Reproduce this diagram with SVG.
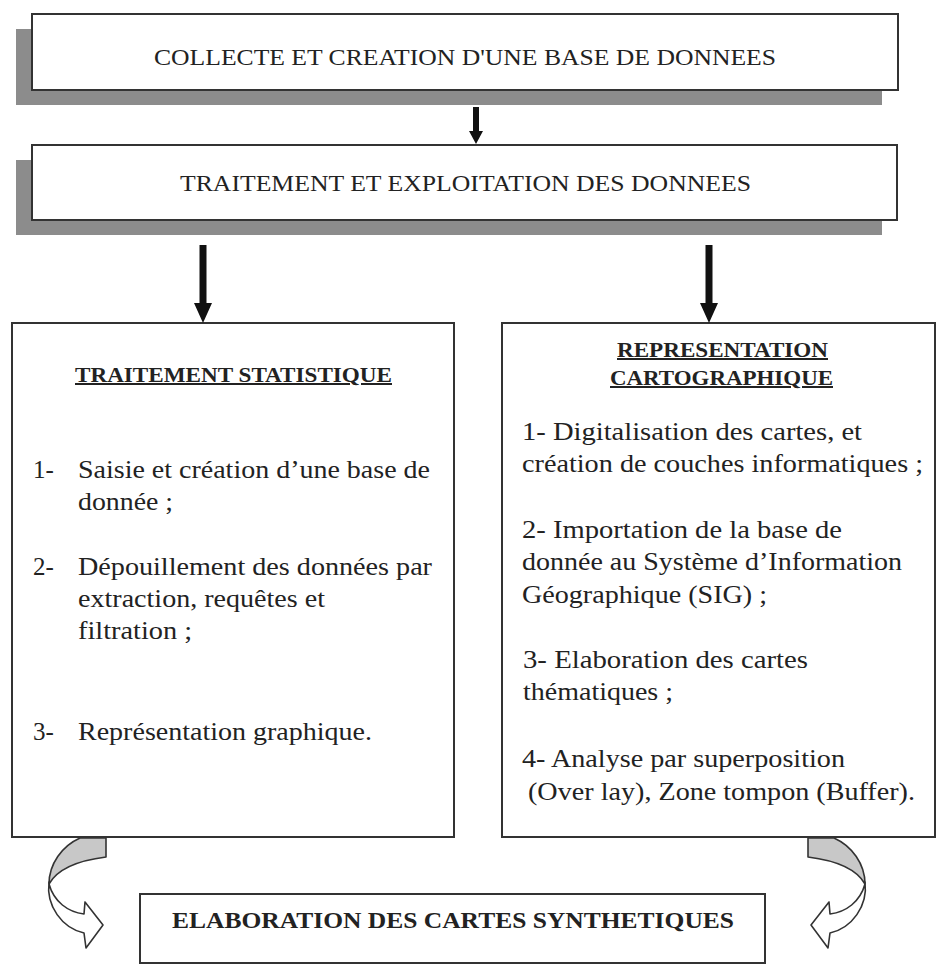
<svg xmlns="http://www.w3.org/2000/svg" width="937" height="966" viewBox="0 0 937 966">
<style>
.box{fill:#fff;stroke:#333;stroke-width:2}
.shadow{fill:#8c8c8c}
.t{font-family:"Liberation Serif","Times New Roman",serif;fill:#222}
.cap{font-size:23px}
.item{font-size:25px}
.bold{font-weight:bold}
.ul{text-decoration:underline}
.arrow{fill:#111}
.cb{stroke:#333;stroke-width:1.6;stroke-linejoin:round}
</style>
<rect width="937" height="966" fill="#fff"/>

<g id="node-collecte">
<rect class="shadow" x="16" y="29" width="866" height="76"/>
<rect class="box" x="32" y="14" width="866" height="76"/>
<text class="t cap" x="154" y="65" textLength="622" lengthAdjust="spacingAndGlyphs">COLLECTE ET CREATION D'UNE BASE DE DONNEES</text>
</g>

<g id="node-traitement">
<rect class="shadow" x="16" y="160" width="866" height="75"/>
<rect class="box" x="32" y="145" width="865" height="75"/>
<text class="t cap" x="180" y="191" textLength="571" lengthAdjust="spacingAndGlyphs">TRAITEMENT ET EXPLOITATION DES DONNEES</text>
</g>

<g id="node-statistique">
<rect class="box" x="12" y="323" width="442" height="514"/>
<text class="t bold ul" font-size="20" x="75" y="382" textLength="317" lengthAdjust="spacingAndGlyphs">TRAITEMENT STATISTIQUE</text>
<text class="t item" x="33" y="478">1-</text>
<text class="t item" x="78" y="478" textLength="352" lengthAdjust="spacingAndGlyphs">Saisie et création d’une base de</text>
<text class="t item" x="78" y="510" textLength="95" lengthAdjust="spacingAndGlyphs">donnée ;</text>
<text class="t item" x="33" y="575">2-</text>
<text class="t item" x="78" y="575" textLength="354" lengthAdjust="spacingAndGlyphs">Dépouillement des données par</text>
<text class="t item" x="78" y="607" textLength="247" lengthAdjust="spacingAndGlyphs">extraction, requêtes et</text>
<text class="t item" x="78" y="639" textLength="114" lengthAdjust="spacingAndGlyphs">filtration ;</text>
<text class="t item" x="33" y="740">3-</text>
<text class="t item" x="78" y="740" textLength="294" lengthAdjust="spacingAndGlyphs">Représentation graphique.</text>
</g>

<g id="node-cartographique">
<rect class="box" x="502" y="323" width="433" height="514"/>
<text class="t bold ul" font-size="20" x="617" y="357" textLength="211" lengthAdjust="spacingAndGlyphs">REPRESENTATION</text>
<text class="t bold ul" font-size="20" x="610" y="385" textLength="223" lengthAdjust="spacingAndGlyphs">CARTOGRAPHIQUE</text>
<text class="t item" x="522" y="440" textLength="340" lengthAdjust="spacingAndGlyphs">1-  Digitalisation des cartes, et</text>
<text class="t item" x="522" y="472" textLength="401" lengthAdjust="spacingAndGlyphs">création de couches informatiques ;</text>
<text class="t item" x="522" y="538" textLength="320" lengthAdjust="spacingAndGlyphs">2-  Importation de la base de</text>
<text class="t item" x="522" y="570" textLength="380" lengthAdjust="spacingAndGlyphs">donnée au Système d’Information</text>
<text class="t item" x="522" y="603" textLength="245" lengthAdjust="spacingAndGlyphs">Géographique (SIG) ;</text>
<text class="t item" x="523" y="668" textLength="285" lengthAdjust="spacingAndGlyphs">3-  Elaboration des cartes</text>
<text class="t item" x="523" y="700" textLength="150" lengthAdjust="spacingAndGlyphs">thématiques ;</text>
<text class="t item" x="522" y="767" textLength="323" lengthAdjust="spacingAndGlyphs">4- Analyse par superposition</text>
<text class="t item" x="528" y="800" textLength="387" lengthAdjust="spacingAndGlyphs">(Over lay), Zone tompon (Buffer).</text>
</g>

<g id="node-synthetiques">
<rect class="box" x="140" y="894" width="625" height="69"/>
<text class="t bold" font-size="23" x="172" y="928" textLength="562" lengthAdjust="spacingAndGlyphs">ELABORATION DES CARTES SYNTHETIQUES</text>
</g>

<g id="connectors">
<path class="arrow" d="M473,107 H479 V131 H483 L476,144 L469,131 H473 Z"/>
<path class="arrow" d="M199.5,245 H206.5 V303 H212 L203,323 L194,303 H199.5 Z"/>
<path class="arrow" d="M705.5,245 H712.5 V303 H718 L709,323 L700,303 H705.5 Z"/>
<g id="curved-left">
<path class="cb" fill="#c8c8c8" d="M80,838 L106,838 L106,857 C82,860 58,868 49,884 C49,864 62,846 80,838 Z"/>
<path class="cb" fill="#fff" d="M49,882 C46,906 62,928 84,933 L86,948 L103,925 L85,902 L84,914 C68,912 54,902 49,884 Z"/>
</g>
<g id="curved-right" transform="translate(914,0) scale(-1,1)">
<path class="cb" fill="#c8c8c8" d="M80,838 L106,838 L106,857 C82,860 58,868 49,884 C49,864 62,846 80,838 Z"/>
<path class="cb" fill="#fff" d="M49,882 C46,906 62,928 84,933 L86,948 L103,925 L85,902 L84,914 C68,912 54,902 49,884 Z"/>
</g>
</g>
</svg>
